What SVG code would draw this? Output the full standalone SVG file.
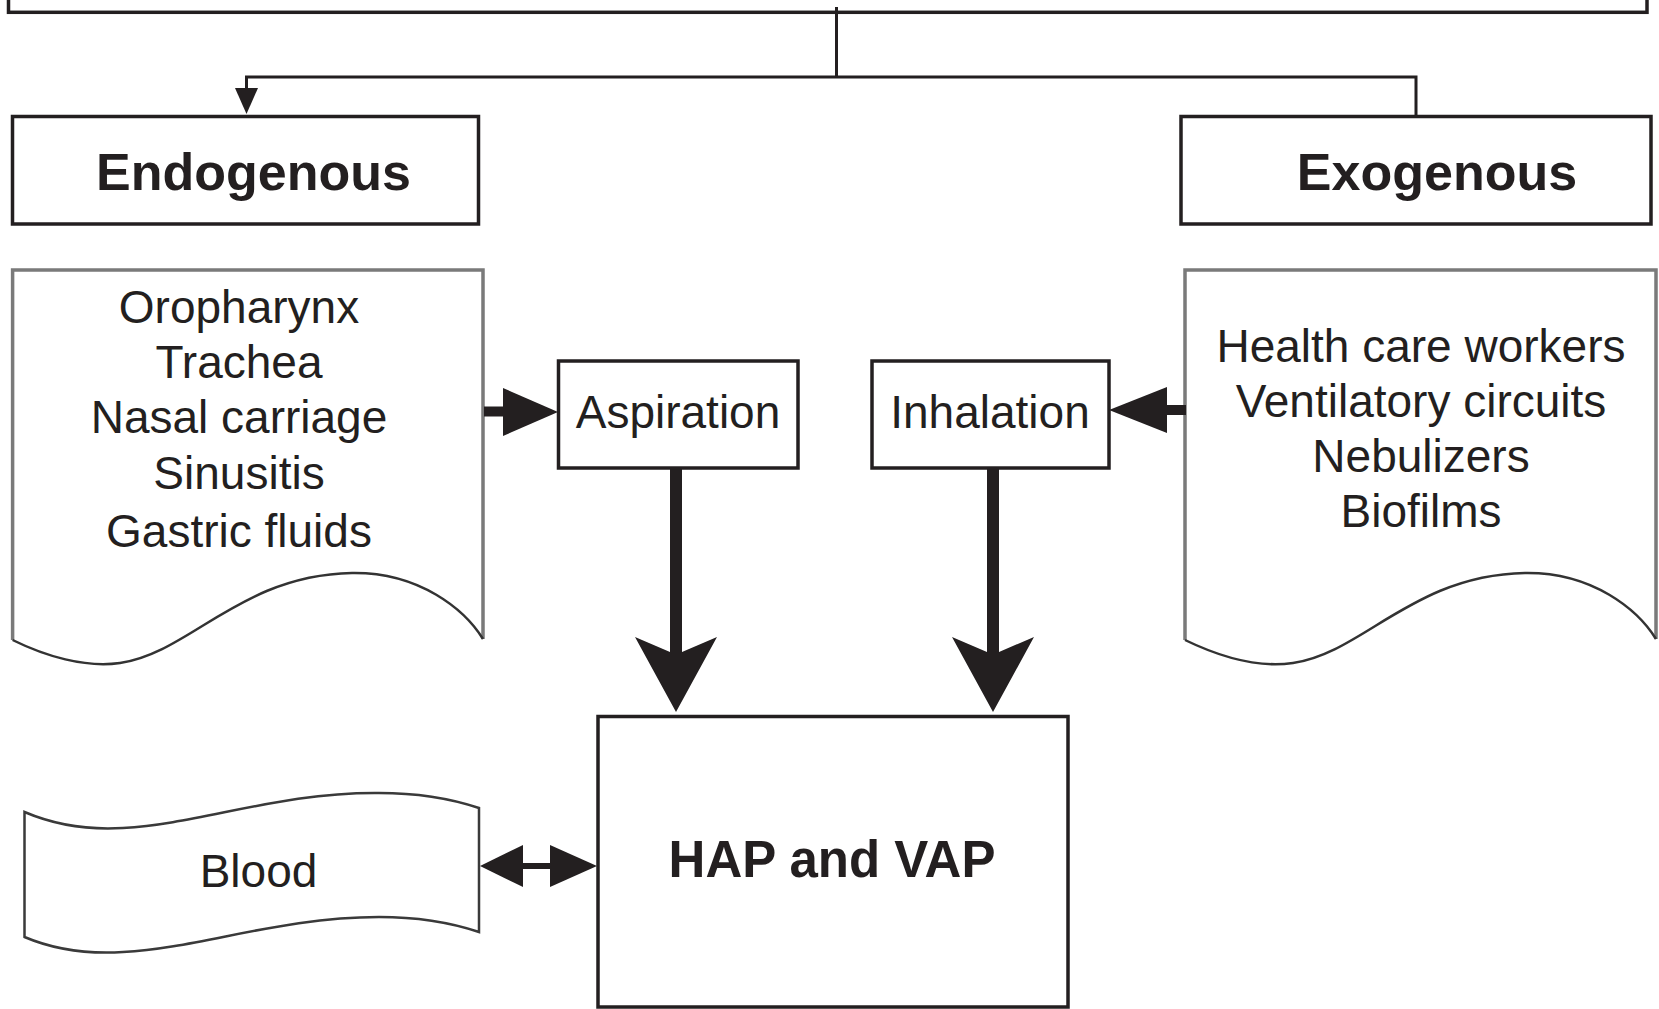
<svg xmlns="http://www.w3.org/2000/svg" width="1659" height="1009" viewBox="0 0 1659 1009">
<style>
.box{fill:#fff;stroke:#231f20;stroke-width:3.5}
.docfill{fill:#fff;stroke:none}
.edge{fill:none;stroke:#7a7a7a;stroke-width:3.5}
.curve{fill:none;stroke:#333;stroke-width:2.5}
.wave{fill:#fff;stroke:#3a3a3a;stroke-width:2.5}
.t{font-family:"Liberation Sans",Arial,Helvetica,sans-serif;font-size:46px;fill:#231f20;text-anchor:middle}
.b{font-family:"Liberation Sans",Arial,Helvetica,sans-serif;font-size:52px;font-weight:bold;fill:#231f20;text-anchor:middle}
.ln{fill:none;stroke:#231f20}
.hd{fill:#231f20;stroke:none}
</style>
<rect width="1659" height="1009" fill="#fff"/>
<g id="top-box">
<rect class="box" x="8.5" y="-20" width="1638.5" height="32.3"/>
</g>
<g id="endogenous">
<rect class="box" x="12.5" y="116.5" width="466" height="107.5"/>
<text class="b" x="253.5" y="190">Endogenous</text>
</g>
<g id="exogenous">
<rect class="box" x="1181" y="116.5" width="470" height="107.5"/>
<text class="b" x="1437" y="190">Exogenous</text>
</g>
<g id="endogenous-sources">
<path class="docfill" d="M12.6,640 L12.6,270 L483,270 L483,639 C465,610 420,572 352,573 C240,575 190,653 120,663 C85,668 45,656 12.6,640 Z"/>
<path class="edge" d="M12.6,640 L12.6,270 L483,270 L483,639"/>
<path class="curve" d="M483,639 C465,610 420,572 352,573 C240,575 190,653 120,663 C85,668 45,656 12.6,640"/>
<text class="t" x="239" y="323">Oropharynx</text>
<text class="t" x="239" y="378">Trachea</text>
<text class="t" x="239" y="433">Nasal carriage</text>
<text class="t" x="239" y="489">Sinusitis</text>
<text class="t" x="239" y="547">Gastric fluids</text>
</g>
<g id="exogenous-sources">
<path class="docfill" d="M1185,640 L1185,270 L1656,270 L1656,639 C1638,610 1593,572 1525,573 C1413,575 1363,653 1293,663 C1258,668 1218,656 1185,640 Z"/>
<path class="edge" d="M1185,640 L1185,270 L1656,270 L1656,639"/>
<path class="curve" d="M1656,639 C1638,610 1593,572 1525,573 C1413,575 1363,653 1293,663 C1258,668 1218,656 1185,640"/>
<text class="t" x="1421" y="362">Health care workers</text>
<text class="t" x="1421" y="417">Ventilatory circuits</text>
<text class="t" x="1421" y="472">Nebulizers</text>
<text class="t" x="1421" y="527">Biofilms</text>
</g>
<g id="aspiration">
<rect class="box" x="558.5" y="361" width="239.5" height="107"/>
<text class="t" x="678" y="428">Aspiration</text>
</g>
<g id="inhalation">
<rect class="box" x="872" y="361" width="237" height="107"/>
<text class="t" x="990" y="428">Inhalation</text>
</g>
<g id="hap-vap">
<rect class="box" x="598" y="716.5" width="470" height="290.5"/>
<text class="b" x="832" y="877" style="font-size:51px">HAP and VAP</text>
</g>
<g id="blood">
<path class="wave" d="M24.5,812 C55,825 90,830 123,828 C200,824 280,792 379,793 C420,793 455,800 479,808 L479,932 C455,924 420,917 379,917 C280,917 200,948 123,952 C90,954 55,950 24.5,937 Z"/>
<text class="t" x="258.5" y="887">Blood</text>
</g>
<g id="connectors">
<path class="ln" stroke-width="3" d="M836.5,7 V77 M245,77 H1417.5 M1416,77 V116 M246.5,75.5 V90"/>
<polygon class="hd" points="246.5,114 235,88 258,88"/>
<path class="ln" stroke-width="10" d="M484,411.5 H506"/>
<polygon class="hd" points="558,412 503,388 503,436"/>
<path class="ln" stroke-width="10" d="M1186,410 H1164"/>
<polygon class="hd" points="1109,410 1167,387 1167,433"/>
<path class="ln" stroke-width="12" d="M676,468 V655"/>
<polygon class="hd" points="676,712 635,637 670,652 682,652 717,637"/>
<path class="ln" stroke-width="12" d="M993,468 V655"/>
<polygon class="hd" points="993,712 952,637 987,652 999,652 1034,637"/>
<path class="ln" stroke-width="6" d="M520,866 H553"/>
<polygon class="hd" points="480,866 523,845 523,887"/>
<polygon class="hd" points="597,866 550,845 550,887"/>
</g>
</svg>
